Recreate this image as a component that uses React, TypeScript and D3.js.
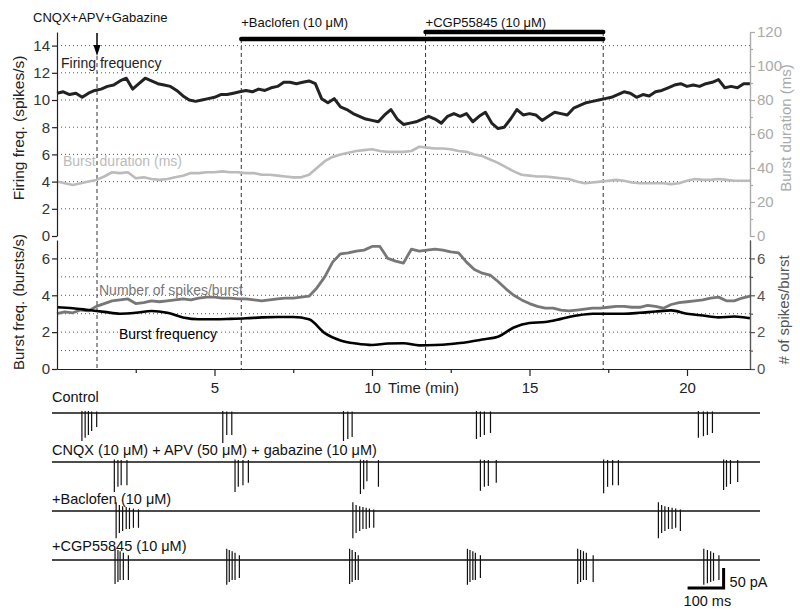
import * as d3 from 'd3';
import { useEffect, useRef } from 'react';

const WIDTH = 800;
const HEIGHT = 611;
const FONT = '"Liberation Sans", Arial, sans-serif';

// time axis (min)
const timeTicks = [5, 10, 15, 20];
const timeMinorTicks = [2.5, 7.5, 12.5, 17.5];

// drug application times (min)
const cnqxTime = 1.27;
const baclofenStart = 5.85;
const cgpStart = 11.7;
const drugEnd = 17.34;

// axis ticks
const firingTicks = [0, 2, 4, 6, 8, 10, 12, 14];
const firingGrid = [2, 4, 6, 8, 10, 12, 14];
const durationTicks = [0, 20, 40, 60, 80, 100, 120];
const durationMinor = [10, 30, 50, 70, 90, 110];
const burstTicks = [0, 2, 4, 6];
const burstMinor = [1, 3, 5];
const burstGrid = [1, 2, 3, 4, 5, 6];

// firing frequency (spikes/s), sampled every 0.2 min
const firingStep = 0.2;
const firingFreq = [
  10.5, 10.6, 10.4, 10.5, 10.2, 10.5, 10.7, 10.8, 11.0, 11.1,
  11.4, 11.6, 10.8, 11.2, 11.6, 11.4, 11.2, 11.1, 11.0, 10.7,
  10.3, 10.0, 9.9, 10.0, 10.1, 10.2, 10.4, 10.4, 10.5, 10.6,
  10.7, 10.6, 10.8, 10.7, 10.9, 11.0, 11.3, 11.3, 11.2, 11.3,
  11.4, 11.2, 10.1, 9.8, 10.1, 9.5, 9.3, 9.0, 8.8, 8.6,
  8.5, 8.4, 8.9, 9.3, 8.6, 8.2, 8.3, 8.4, 8.6, 8.8,
  8.6, 8.3, 8.8, 9.0, 8.8, 9.0, 8.4, 8.8, 9.1, 8.3,
  7.9, 8.0, 8.6, 9.3, 8.9, 9.0, 8.9, 8.5, 8.8, 9.1,
  9.0, 8.9, 9.4, 9.6, 9.8, 9.9, 10.0, 10.1, 10.2, 10.4,
  10.6, 10.5, 10.2, 10.4, 10.3, 10.6, 10.7, 10.9, 11.1, 11.2,
  11.0, 11.1, 11.0, 11.2, 11.3, 11.5, 10.9, 11.0, 10.9, 11.2,
  11.2,
];

// burst duration (ms), every 0.25 min
const durationStep = 0.25;
const burstDuration = [
  32, 31, 30, 31, 32, 33, 35, 37.5, 37, 37.5,
  34, 34.5, 33.5, 33, 33.5, 34.5, 35.5, 37, 37, 37.5,
  37.5, 38, 37.5, 37.5, 37, 37, 36, 36, 35.5, 35,
  34.5, 34.5, 36, 40, 44, 46.5, 48, 49, 50, 50.5,
  51, 50, 49.5, 49.5, 49.5, 50, 52.5, 52, 51.5, 51.5,
  51, 50, 49.5, 48, 47, 45, 43, 40.5, 38, 36,
  35.5, 35, 35, 34.5, 34, 33.5, 32, 31, 31.5, 32,
  32.5, 33, 32.5, 31.5, 31, 31, 31, 31, 30.5, 31,
  32.5, 33.5, 33, 33, 33.5, 33, 32.5, 32.5, 32.5,
];

// number of spikes per burst, every 0.25 min
const spikesStep = 0.25;
const spikesPerBurst = [
  3.0, 3.1, 3.05, 3.2, 3.15, 3.4, 3.55, 3.7, 3.75, 3.8,
  3.55, 3.6, 3.7, 3.65, 3.7, 3.75, 3.8, 3.75, 3.85, 3.9,
  3.9, 3.85, 3.85, 3.8, 3.8, 3.75, 3.7, 3.75, 3.8, 3.85,
  3.85, 3.9, 3.95, 4.4, 5.0, 5.8, 6.25, 6.3, 6.4, 6.45,
  6.65, 6.65, 6.0, 5.85, 5.75, 6.5, 6.4, 6.45, 6.5, 6.45,
  6.35, 6.3, 5.8, 5.4, 5.2, 5.1, 4.75, 4.35, 4.0, 3.75,
  3.55, 3.4, 3.3, 3.3, 3.2, 3.15, 3.2, 3.25, 3.3, 3.3,
  3.35, 3.4, 3.4, 3.35, 3.35, 3.45, 3.4, 3.3, 3.5, 3.6,
  3.65, 3.7, 3.75, 3.85, 3.9, 3.7, 3.7, 3.85, 3.95,
];

// burst frequency (bursts/s), every 0.5 min
const burstStep = 0.5;
const burstFreq = [
  3.35, 3.3, 3.2, 3.1, 3.0, 3.05, 3.15, 3.05, 2.8, 2.7,
  2.7, 2.72, 2.75, 2.8, 2.82, 2.82, 2.7, 1.95, 1.55, 1.38,
  1.3, 1.38, 1.4, 1.28, 1.3, 1.36, 1.45, 1.6, 1.75, 2.25,
  2.5, 2.55, 2.72, 2.9, 3.0, 3.0, 3.0, 3.05, 3.12, 3.18,
  3.0, 2.9, 2.8, 2.85, 2.75,
];

// example current traces: [time (ms), downward amplitude (pA), upward amplitude (pA)]
const traceLength = 1965;
const controlSpikes = [
  [83, 70, 5], [92, 62, 5], [101, 55, 5], [110, 45, 4], [124, 35, 4],
  [474, 75, 5], [485, 55, 4], [499, 55, 4],
  [809, 70, 5], [821, 65, 4], [833, 60, 4],
  [1178, 65, 5], [1189, 60, 4], [1200, 55, 4], [1217, 50, 4],
  [1794, 62, 5], [1808, 58, 4], [1819, 55, 4], [1833, 50, 4],
];
const cnqxSpikes = [
  [173, 75, 6], [183, 62, 5], [192, 58, 5], [208, 58, 5],
  [508, 75, 6], [517, 62, 5], [530, 58, 5], [545, 52, 5],
  [856, 80, 6], [865, 68, 5], [874, 48, 5], [906, 62, 5],
  [1189, 72, 6], [1200, 62, 5], [1211, 60, 5], [1233, 52, 5],
  [1531, 78, 6], [1542, 62, 5], [1556, 58, 5], [1572, 58, 5],
  [1864, 70, 6], [1872, 62, 5], [1883, 55, 5], [1903, 50, 5],
];
const baclofenSpikes = [
  [178, 68, 22], [187, 55, 15], [196, 50, 12], [206, 45, 10], [215, 45, 8], [226, 42, 6], [240, 42, 4],
  [835, 68, 22], [844, 55, 15], [854, 50, 12], [863, 45, 10], [872, 45, 8], [881, 42, 6], [893, 42, 4],
  [1683, 68, 22], [1692, 55, 15], [1701, 50, 12], [1711, 45, 10], [1721, 45, 8], [1731, 42, 6], [1744, 50, 4],
];
const cgpSpikes = [
  [175, 60, 28], [183, 55, 25], [189, 50, 22], [198, 50, 18], [212, 50, 12],
  [485, 62, 28], [492, 55, 25], [500, 50, 22], [508, 50, 18], [520, 45, 12],
  [826, 60, 28], [833, 55, 25], [842, 50, 20], [850, 50, 12],
  [1153, 62, 28], [1160, 55, 25], [1168, 50, 22], [1175, 50, 18], [1189, 45, 12],
  [1459, 60, 28], [1467, 55, 25], [1475, 50, 22], [1483, 50, 18], [1502, 55, 12],
  [1809, 62, 28], [1819, 58, 25], [1828, 55, 22], [1836, 52, 18], [1851, 50, 12],
];
const traceLabels = [
  'Control',
  'CNQX (10 μM) + APV (50 μM) + gabazine (10 μM)',
  '+Baclofen (10 μM)',
  '+CGP55845 (10 μM)',
];
const traceSpikes = [controlSpikes, cnqxSpikes, baclofenSpikes, cgpSpikes];
// scale bar
const barTimeMs = 100;
const barAmpPA = 50;
const barStartMs = 1764;

const App = () => {
  const ref = useRef<SVGSVGElement>(null);

  useEffect(() => {
    const svg = d3.select(ref.current);
    svg.selectAll('*').remove();
    svg.attr('font-family', FONT);

    const x = d3.scaleLinear().domain([0, 22]).range([57, 750]);
    const yTopL = d3.scaleLinear().domain([0, 15]).range([236, 32]);
    const yTopR = d3.scaleLinear().domain([0, 120]).range([236, 32]);
    const yBot = d3.scaleLinear().domain([0, 7]).range([369, 240]);
    const intFmt = d3.format('d');

    // dotted grids
    const grid = svg.append('g')
      .attr('stroke', '#555')
      .attr('stroke-width', 1)
      .attr('stroke-dasharray', '1,3');
    grid.selectAll('.gt').data(firingGrid).enter().append('line')
      .attr('x1', 57).attr('x2', 750)
      .attr('y1', d => yTopL(d)).attr('y2', d => yTopL(d));
    grid.selectAll('.gb').data(burstGrid).enter().append('line')
      .attr('x1', 57).attr('x2', 750)
      .attr('y1', d => yBot(d)).attr('y2', d => yBot(d));

    // dashed drug markers
    const markers = [
      { t: cnqxTime, top: 56 },
      { t: baclofenStart, top: 39 },
      { t: cgpStart, top: 32 },
      { t: drugEnd, top: 32 },
    ];
    svg.append('g').selectAll('line').data(markers).enter().append('line')
      .attr('x1', d => x(d.t)).attr('x2', d => x(d.t))
      .attr('y1', d => d.top).attr('y2', 369)
      .attr('stroke', '#333')
      .attr('stroke-width', 1)
      .attr('stroke-dasharray', '4,3');

    // drug bars
    svg.append('line')
      .attr('x1', x(baclofenStart)).attr('x2', x(drugEnd))
      .attr('y1', 39).attr('y2', 39)
      .attr('stroke', '#000').attr('stroke-width', 4.5).attr('stroke-linecap', 'round');
    svg.append('line')
      .attr('x1', x(cgpStart)).attr('x2', x(drugEnd))
      .attr('y1', 32).attr('y2', 32)
      .attr('stroke', '#000').attr('stroke-width', 4.5).attr('stroke-linecap', 'round');

    // arrow
    const ax = x(cnqxTime);
    svg.append('line')
      .attr('x1', ax).attr('x2', ax).attr('y1', 33).attr('y2', 47)
      .attr('stroke', '#000').attr('stroke-width', 1.5);
    svg.append('path')
      .attr('d', `M${ax - 3.5},45 L${ax + 3.5},45 L${ax},56 Z`)
      .attr('fill', '#000');

    // lines
    const drawLine = (values: number[], step: number, yScale: d3.ScaleLinear<number, number>, color: string, width: number, curve: d3.CurveFactory) => {
      const line = d3.line<number>()
        .x((d, i) => x(i * step))
        .y(d => yScale(d))
        .curve(curve);
      svg.append('path')
        .datum(values)
        .attr('fill', 'none')
        .attr('stroke', color)
        .attr('stroke-width', width)
        .attr('stroke-linejoin', 'round')
        .attr('d', line);
    };
    drawLine(burstDuration, durationStep, yTopR, '#bbb', 2.6, d3.curveLinear);
    drawLine(firingFreq, firingStep, yTopL, '#222', 3, d3.curveLinear);
    drawLine(spikesPerBurst, spikesStep, yBot, '#777', 2.8, d3.curveLinear);
    drawLine(burstFreq, burstStep, yBot, '#000', 2.6, d3.curveMonotoneX);

    // axes
    const styleAxis = (g: any, color: string, textColor: string) => {
      g.attr('font-family', FONT).attr('font-size', 15);
      g.selectAll('path, line').attr('stroke', color).attr('stroke-width', 1.2);
      g.selectAll('text').attr('fill', textColor);
    };

    styleAxis(svg.append('g').attr('transform', 'translate(57,0)')
      .call(d3.axisLeft(yTopL).tickValues(firingTicks).tickSize(5).tickSizeOuter(0).tickPadding(2).tickFormat(intFmt)), '#222', '#333');
    styleAxis(svg.append('g').attr('transform', 'translate(57,0)')
      .call(d3.axisLeft(yBot).tickValues(burstTicks).tickSize(5).tickSizeOuter(0).tickPadding(2).tickFormat(intFmt)), '#222', '#333');
    styleAxis(svg.append('g').attr('transform', 'translate(750,0)')
      .call(d3.axisRight(yTopR).tickValues(durationTicks).tickSize(5).tickSizeOuter(0).tickPadding(2).tickFormat(intFmt)), '#aaa', '#aaa');
    styleAxis(svg.append('g').attr('transform', 'translate(750,0)')
      .call(d3.axisRight(yTopR).tickValues(durationMinor).tickSize(3).tickSizeOuter(0).tickFormat(() => '')), '#aaa', '#aaa');
    styleAxis(svg.append('g').attr('transform', 'translate(750,0)')
      .call(d3.axisRight(yBot).tickValues(burstTicks).tickSize(5).tickSizeOuter(0).tickPadding(2).tickFormat(intFmt)), '#555', '#555');
    styleAxis(svg.append('g').attr('transform', 'translate(750,0)')
      .call(d3.axisRight(yBot).tickValues(burstMinor).tickSize(3).tickSizeOuter(0).tickFormat(() => '')), '#555', '#555');
    styleAxis(svg.append('g').attr('transform', 'translate(0,369)')
      .call(d3.axisBottom(x).tickValues(timeTicks).tickSize(7).tickSizeOuter(0).tickPadding(6).tickFormat(intFmt)), '#222', '#222');
    styleAxis(svg.append('g').attr('transform', 'translate(0,369)')
      .call(d3.axisBottom(x).tickValues(timeMinorTicks).tickSize(4).tickSizeOuter(0).tickFormat(() => '')), '#222', '#222');

    // axis titles
    const addText = (txt: string, tx: number, ty: number, opts: { size?: number; fill?: string; anchor?: string; rotate?: boolean } = {}) => {
      svg.append('text')
        .attr('transform', `translate(${tx},${ty})${opts.rotate ? ' rotate(-90)' : ''}`)
        .attr('text-anchor', opts.anchor || 'start')
        .attr('font-size', opts.size || 14)
        .attr('fill', opts.fill || '#111')
        .text(txt);
    };
    addText('Firing freq. (spikes/s)', 24, 128, { size: 15.5, anchor: 'middle', rotate: true, fill: '#222' });
    addText('Burst freq. (bursts/s)', 24, 302, { size: 15, anchor: 'middle', rotate: true, fill: '#222' });
    addText('Burst duration (ms)', 791, 128, { size: 15, anchor: 'middle', rotate: true, fill: '#aaa' });
    addText('# of spikes/burst', 789, 310, { size: 15, anchor: 'middle', rotate: true, fill: '#555' });
    addText('Time (min)', 388, 393, { size: 15, fill: '#222' });

    // annotations
    addText('CNQX+APV+Gabazine', 33, 22, { size: 13 });
    addText('+Baclofen (10 μM)', x(baclofenStart), 27, { size: 13 });
    addText('+CGP55845 (10 μM)', x(cgpStart), 27, { size: 13 });
    addText('Firing frequency', 61, 68, { size: 14, fill: '#222' });
    addText('Burst duration (ms)', 63, 166, { size: 14, fill: '#bbb' });
    addText('Number of spikes/burst', 99, 295, { size: 14, fill: '#777' });
    addText('Burst frequency', 119, 339, { size: 14, fill: '#000' });

    // example traces
    const xT = d3.scaleLinear().domain([0, traceLength]).range([52, 760]);
    const amp = d3.scaleLinear().domain([0, 50]).range([0, 20]);
    const rowY = d3.scaleLinear().domain([0, 3]).range([413, 560]);
    const labelOffsets = [-11, -7, -7, -9];

    traceSpikes.forEach((spikes, r) => {
      const base = rowY(r);
      const g = svg.append('g');
      addText(traceLabels[r], 52, base + labelOffsets[r], { size: 14.5 });
      g.append('line')
        .attr('x1', xT(0)).attr('x2', xT(traceLength))
        .attr('y1', base).attr('y2', base)
        .attr('stroke', '#111').attr('stroke-width', 1.6);
      g.selectAll('.spike').data(spikes).enter().append('line')
        .attr('x1', d => xT(d[0])).attr('x2', d => xT(d[0]))
        .attr('y1', d => base - amp(d[2]))
        .attr('y2', d => base + amp(d[1]))
        .attr('stroke', '#111').attr('stroke-width', 1.2);
    });

    // scale bar
    const sbY = 588;
    const sbX0 = xT(barStartMs);
    const sbX1 = xT(barStartMs + barTimeMs);
    svg.append('path')
      .attr('d', `M${sbX0},${sbY} L${sbX1},${sbY} L${sbX1},${sbY - amp(barAmpPA)}`)
      .attr('fill', 'none')
      .attr('stroke', '#000')
      .attr('stroke-width', 3);
    addText(`${barAmpPA} pA`, sbX1 + 6, 587, { size: 14.5 });
    addText(`${barTimeMs} ms`, sbX0 - 4, 606, { size: 14.5 });
  }, []);

  return (
    <svg
      ref={ref}
      width={WIDTH}
      height={HEIGHT}
      style={{ position: 'absolute', left: 0, top: 0, background: '#fff' }}
    />
  );
};

export default App;
